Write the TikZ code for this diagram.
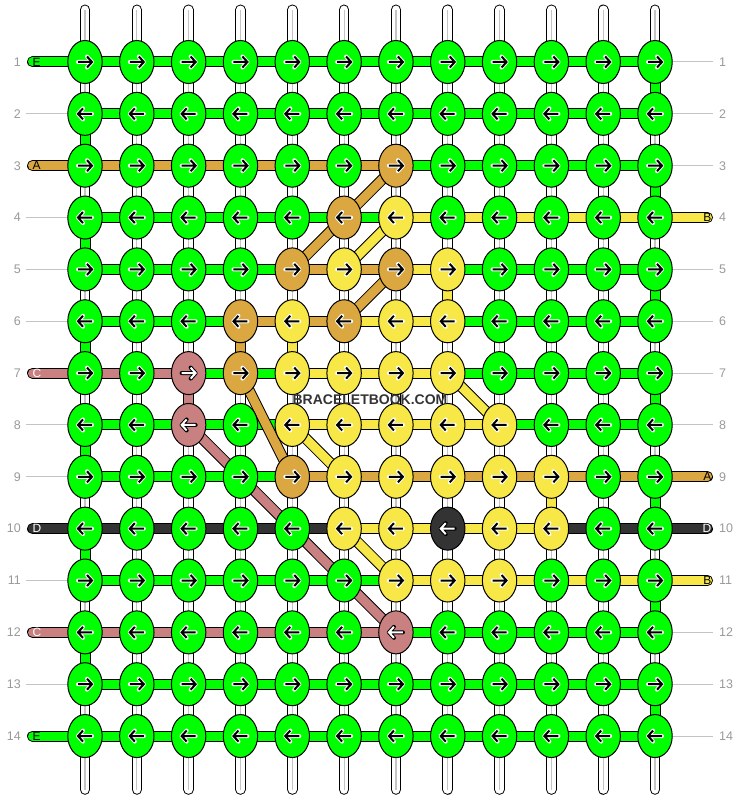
\documentclass[tikz,border=0pt]{standalone}
\usepackage{fontspec}
\setmainfont{Liberation Sans}
\usetikzlibrary{shapes.geometric,backgrounds}

% string colours
\definecolor{sg}{HTML}{00FF00}
\definecolor{so}{HTML}{DAA740}
\definecolor{sy}{HTML}{F7E847}
\definecolor{sp}{HTML}{C98080}
\definecolor{sd}{HTML}{333333}
% arrow, halo and tag colours per string
\colorlet{ag}{black}\colorlet{ao}{black}\colorlet{ay}{black}\colorlet{ap}{white}\colorlet{ad}{white}
\colorlet{hg}{white}\colorlet{ho}{white}\colorlet{hy}{white}\colorlet{hp}{black}\colorlet{hd}{black}
\colorlet{tg}{black}\colorlet{to}{black}\colorlet{ty}{black}\colorlet{tp}{white}\colorlet{td}{white}
\definecolor{numgrey}{HTML}{999999}
\definecolor{rulegrey}{HTML}{C4C4C4}
\definecolor{markgrey}{HTML}{333333}

\newcommand\kx{51.82}
\newcommand\ky{51.85}

\tikzset{pics/knotarrow/.style={code={
  \draw[draw=h#1,line width=4pt,line join=round,line cap=round] (-7,0) -- (7,0) (2,-5.5) -- (7,0) -- (2,5.5);
  \draw[draw=a#1,line width=2pt,line join=miter] (-7,0) -- (7,0) (2,-5.5) -- (7,0) -- (2,5.5);
}}}

\begin{document}
\begin{tikzpicture}[x=1pt,y=-1pt,
    knot/.style={ellipse,draw=black,line width=1pt,minimum width=34.4pt,minimum height=43pt,inner sep=0pt},
    seg/.style={draw=black,line width=1pt,double distance=9pt},
    base/.style={draw=black,line width=1pt,double=white,double distance=8.6pt,line cap=round},
    thin/.style={draw=rulegrey,line width=1pt},
    rowno/.style={text=numgrey,font=\fontsize{12.5}{14}\selectfont,inner sep=0pt},
    tag/.style={font=\fontsize{12}{13}\selectfont,inner sep=0pt}
  ]
  \useasboundingbox (0,0) rectangle (740,800);

  % knots
  \foreach \row/\knots in {
      1/{g,g,g,g,g,g,g,g,g,g,g,g},
      2/{g,g,g,g,g,g,g,g,g,g,g,g},
      3/{g,g,g,g,g,g,o,g,g,g,g,g},
      4/{g,g,g,g,g,o,y,g,g,g,g,g},
      5/{g,g,g,g,o,y,o,y,g,g,g,g},
      6/{g,g,g,o,y,o,y,y,g,g,g,g},
      7/{g,g,p,o,y,y,y,y,g,g,g,g},
      8/{g,g,p,g,y,y,y,y,y,g,g,g},
      9/{g,g,g,g,o,y,y,y,y,y,g,g},
      10/{g,g,g,g,g,y,y,d,y,y,g,g},
      11/{g,g,g,g,g,g,y,y,y,g,g,g},
      12/{g,g,g,g,g,g,p,g,g,g,g,g},
      13/{g,g,g,g,g,g,g,g,g,g,g,g},
      14/{g,g,g,g,g,g,g,g,g,g,g,g}}{
    \ifodd\row \def\dir{1}\else\def\dir{-1}\fi
    \foreach \c [count=\col] in \knots {
      \node[knot,fill=s\c] (k-\col-\row) at ({85+(\col-1)*\kx},{62+(\row-1)*\ky}) {};
      \pic[xscale=\dir] at (k-\col-\row) {knotarrow=\c};
    }
  }

  \node[font=\bfseries\fontsize{14}{16}\selectfont,text=markgrey] (mark) at (370,400) {BRACELETBOOK.COM};

  \begin{pgfonlayer}{background}
    % white base strings
    \foreach \col in {1,...,12}{
      \coordinate (top-\col) at ({85+(\col-1)*\kx},9.8);
      \coordinate (bot-\col) at ({85+(\col-1)*\kx},789.5);
      \draw[base] (top-\col) -- (bot-\col);
      \draw[rulegrey,line width=1.2pt] (top-\col) -- (bot-\col);
    }
    % coloured vertical pieces
    \foreach \col/\row/\c in {12/1/g,1/2/g,12/3/g,1/4/g,12/5/g,1/6/g,12/7/g,1/8/g,
        12/9/g,1/10/g,12/11/g,1/12/g,12/13/g,8/5/y,5/6/y,10/9/y,4/6/o,3/7/p}{
      \pgfmathtruncatemacro\next{\row+1}
      \draw[seg,double=s\c] (k-\col-\row.center) -- (k-\col-\next.center);
    }
    % rows
    \foreach \row/\lc/\lt/\segs/\rc/\rt in {
        1/g/E/{g,g,g,g,g,g,g,g,g,g,g}/n/-,
        2/n/-/{g,g,g,g,g,g,g,g,g,g,g}/n/-,
        3/o/A/{o,o,o,o,o,o,g,g,g,g,g}/n/-,
        4/n/-/{g,g,g,g,g,g,y,y,y,y,y}/y/B,
        5/n/-/{g,g,g,g,o,o,y,g,g,g,g}/n/-,
        6/n/-/{g,g,g,o,o,y,y,g,g,g,g}/n/-,
        7/p/C/{p,p,g,g,y,y,y,g,g,g,g}/n/-,
        8/n/-/{g,g,g,g,y,y,y,y,g,g,g}/n/-,
        9/n/-/{g,g,g,g,o,o,o,o,o,o,o}/o/A,
        10/d/D/{d,d,d,d,d,y,y,y,y,d,d}/d/D,
        11/n/-/{g,g,g,g,g,g,y,y,y,y,y}/y/B,
        12/p/C/{p,p,p,p,p,p,g,g,g,g,g}/n/-,
        13/n/-/{g,g,g,g,g,g,g,g,g,g,g}/n/-,
        14/g/E/{g,g,g,g,g,g,g,g,g,g,g}/n/-}{
      \coordinate (lend-\row) at (26,{62+(\row-1)*\ky});
      \coordinate (rend-\row) at (713,{62+(\row-1)*\ky});
      \foreach \s [count=\i] in \segs {
        \pgfmathtruncatemacro\j{\i+1}
        \draw[seg,double=s\s] (k-\i-\row.center) -- (k-\j-\row.center);
      }
      \if n\lc
        \draw[thin] (lend-\row) -- (k-1-\row.center);
      \else
        \draw[seg,double=s\lc,line cap=round,shorten <=6.5pt] (lend-\row) -- (k-1-\row.center);
        \node[tag,text=t\lc,anchor=west,xshift=6.5pt] (tl-\row) at (lend-\row) {\lt};
      \fi
      \if n\rc
        \draw[thin] (k-12-\row.center) -- (rend-\row);
      \else
        \draw[seg,double=s\rc,line cap=round,shorten >=5.5pt] (k-12-\row.center) -- (rend-\row);
        \node[tag,text=t\rc,anchor=east,xshift=-1.5pt] (tr-\row) at (rend-\row) {\rt};
      \fi
      \node[rowno,anchor=east] (nl-\row) at (21,{62+(\row-1)*\ky}) {\row};
      \node[rowno,anchor=west] (nr-\row) at (719,{62+(\row-1)*\ky}) {\row};
    }
    % diagonal pieces
    \foreach \ca/\ra/\cb/\rb/\c in {7/3/6/4/o,6/4/5/5/o,7/5/6/6/o,4/7/5/9/o,
        7/4/6/5/y,8/7/9/8/y,5/8/6/9/y,6/10/7/11/y,3/8/7/12/p}{
      \draw[seg,double=s\c] (k-\ca-\ra.center) -- (k-\cb-\rb.center);
    }
  \end{pgfonlayer}
\end{tikzpicture}
\end{document}
